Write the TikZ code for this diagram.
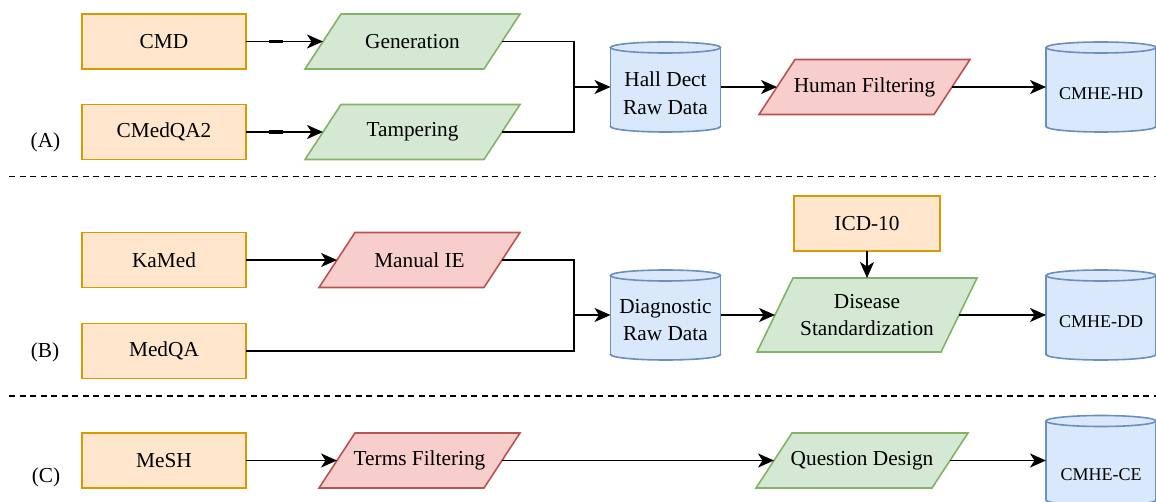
\documentclass[tikz,border=0pt]{standalone}
\usepackage{fontspec}
\setmainfont{Liberation Serif}
\usetikzlibrary{arrows.meta,backgrounds}
\definecolor{oF}{HTML}{FFE6CC}\definecolor{oS}{HTML}{D79B00}
\definecolor{gF}{HTML}{D5E8D4}\definecolor{gS}{HTML}{82B366}
\definecolor{rF}{HTML}{F8CECC}\definecolor{rS}{HTML}{B85450}
\definecolor{bF}{HTML}{DAE8FC}\definecolor{bS}{HTML}{6C8EBF}
\tikzset{
  txt/.style={font=\fontsize{21.3pt}{27.5pt}\selectfont, align=center, inner sep=0pt, outer sep=0pt},
  srcbox/.style={txt, draw=oS, fill=oF, line width=1.6pt, minimum width=164pt, minimum height=55pt},
  parabox/.style={txt, minimum height=55pt},
  cylbox/.style={inner sep=0pt, outer sep=0pt, minimum width=110pt, minimum height=90pt},
  cyltext/.style={font=\fontsize{18pt}{27pt}\selectfont, align=center, inner sep=0pt},
  cyltext2/.style={txt},
  grp/.style={font=\fontsize{21.3pt}{26pt}\selectfont, inner sep=0pt},
  gpara/.style={draw=gS, fill=gF, line width=1.6pt},
  rpara/.style={draw=rS, fill=rF, line width=1.6pt},
  cylS/.style={draw=bS, line width=1.6pt},
  cylf/.style={draw=bS, fill=bF, line width=1.6pt},
  ln/.style={draw=black, line width=1.8pt},
  arr/.style={ln, -{Stealth[length=16pt, width=14pt, inset=4.5pt]}},
  sep/.style={draw=black, line width=1.4pt, dash pattern=on 6pt off 4.5pt},
}
\newcommand\drawcyl[1]{%
  \filldraw[cylf] ([yshift=5.5pt]#1.south) ellipse [x radius=55pt, y radius=5.5pt];
  \fill[bF] ([yshift=5.5pt]#1.south west) rectangle ([yshift=-5.5pt]#1.north east);
  \draw[cylS] ([yshift=5.5pt]#1.south west) -- ([yshift=-5.5pt]#1.north west);
  \draw[cylS] ([yshift=5.5pt]#1.south east) -- ([yshift=-5.5pt]#1.north east);
  \filldraw[cylf] ([yshift=-5.5pt]#1.north) ellipse [x radius=55pt, y radius=5.5pt];}
\newcommand\drawpara[2]{%
  \filldraw[#2] (#1.south west) -- ([xshift=36pt]#1.north west) -- (#1.north east) -- ([xshift=-36pt]#1.south east) -- cycle;}
\begin{document}
\begin{tikzpicture}[x=1pt, y=-1pt]
\useasboundingbox (0,0) rectangle (1156,502);
% ---------- Row A ----------
\node[srcbox] (cmd) at (164,41.5) {CMD};
\node[srcbox] (cmq) at (164,132) {CMedQA2};
\node[parabox, minimum width=215pt] (gen) at (412.5,41.5) {Generation};
\node[parabox, minimum width=215pt] (tam) at (412.5,132) {Tampering};
\node[cylbox] (hd) at (665.5,87) {};
\node[cyltext2] (hdt) at (665.5,93) {Hall Dect\\Raw Data};
\node[parabox, minimum width=211pt] (hf) at (864.5,87) {Human Filtering};
\node[cylbox] (chd) at (1101,87) {};
\node[cyltext] (chdt) at (1101,93.5) {CMHE-HD};
\node[grp] (la) at (45.5,142) {(A)};
% ---------- Row B ----------
\node[srcbox] (kam) at (164,260) {KaMed};
\node[srcbox] (mqa) at (164,351) {MedQA};
\node[parabox, minimum width=201pt] (mie) at (419.5,260) {Manual IE};
\node[cylbox] (dg) at (665.5,315) {};
\node[cyltext2] (dgt) at (665.5,320) {Diagnostic\\Raw Data};
\node[srcbox, minimum width=146pt] (icd) at (867,223.5) {ICD-10};
\node[parabox, minimum width=220pt, minimum height=74pt] (ds) at (867,315) {Disease\\Standardization};
\node[cylbox] (cdd) at (1101,315) {};
\node[cyltext] (cddt) at (1101,322) {CMHE-DD};
\node[grp] (lb) at (45,352) {(B)};
% ---------- Row C ----------
\node[srcbox] (msh) at (164,460.5) {MeSH};
\node[parabox, minimum width=201pt] (tf) at (419.5,460.5) {Terms Filtering};
\node[parabox, minimum width=212pt] (qd) at (862,460.5) {Question Design};
\node[cylbox] (cce) at (1101,460.5) {};
\node[cyltext] (ccet) at (1101,475) {CMHE-CE};
\node[grp] (lc) at (46,477) {(C)};
% ---------- shapes behind text ----------
\begin{scope}[on background layer]
  \drawpara{gen}{gpara}
  \drawpara{tam}{gpara}
  \drawpara{hf}{rpara}
  \drawpara{mie}{rpara}
  \drawpara{ds}{gpara}
  \drawpara{tf}{rpara}
  \drawpara{qd}{gpara}
  \drawcyl{hd}
  \drawcyl{chd}
  \drawcyl{dg}
  \drawcyl{cdd}
  \drawcyl{cce}
\end{scope}
% ---------- connectors ----------
\coordinate (ja) at (574,87);
\coordinate (jb) at (574,315);
\draw[arr] (cmd.east) -- ([xshift=18pt]gen.west);
\draw[line width=3.2pt] ([xshift=23pt]cmd.east) -- ([xshift=37pt]cmd.east);
\draw[arr] (cmq.east) -- ([xshift=18pt]tam.west);
\draw[line width=3.2pt] ([xshift=23pt]cmq.east) -- ([xshift=37pt]cmq.east);
\draw[ln] ([xshift=-18pt]gen.east) -| (ja);
\draw[ln] ([xshift=-18pt]tam.east) -| (ja);
\draw[arr] (ja) -- (hd.west);
\draw[arr] (hd.east) -- ([xshift=18pt]hf.west);
\draw[arr] ([xshift=-18pt]hf.east) -- (chd.west);
\draw[arr] (kam.east) -- ([xshift=18pt]mie.west);
\draw[ln] ([xshift=-18pt]mie.east) -| (jb);
\draw[ln] (mqa.east) -| (jb);
\draw[arr] (jb) -- (dg.west);
\draw[arr] (dg.east) -- ([xshift=18pt]ds.west);
\draw[arr] (icd.south) -- (ds.north);
\draw[arr] ([xshift=-18pt]ds.east) -- (cdd.west);
\draw[arr] (msh.east) -- ([xshift=18pt]tf.west);
\draw[arr] ([xshift=-18pt]tf.east) -- ([xshift=18pt]qd.west);
\draw[arr] ([xshift=-18pt]qd.east) -- (cce.west);
% ---------- separators ----------
\coordinate (s1a) at (9,176.5); \coordinate (s1b) at (1156,176.5);
\coordinate (s2a) at (9,396); \coordinate (s2b) at (1156,396);
\draw[sep] (s1a) -- (s1b);
\draw[sep] (s2a) -- (s2b);
\end{tikzpicture}
\end{document}
